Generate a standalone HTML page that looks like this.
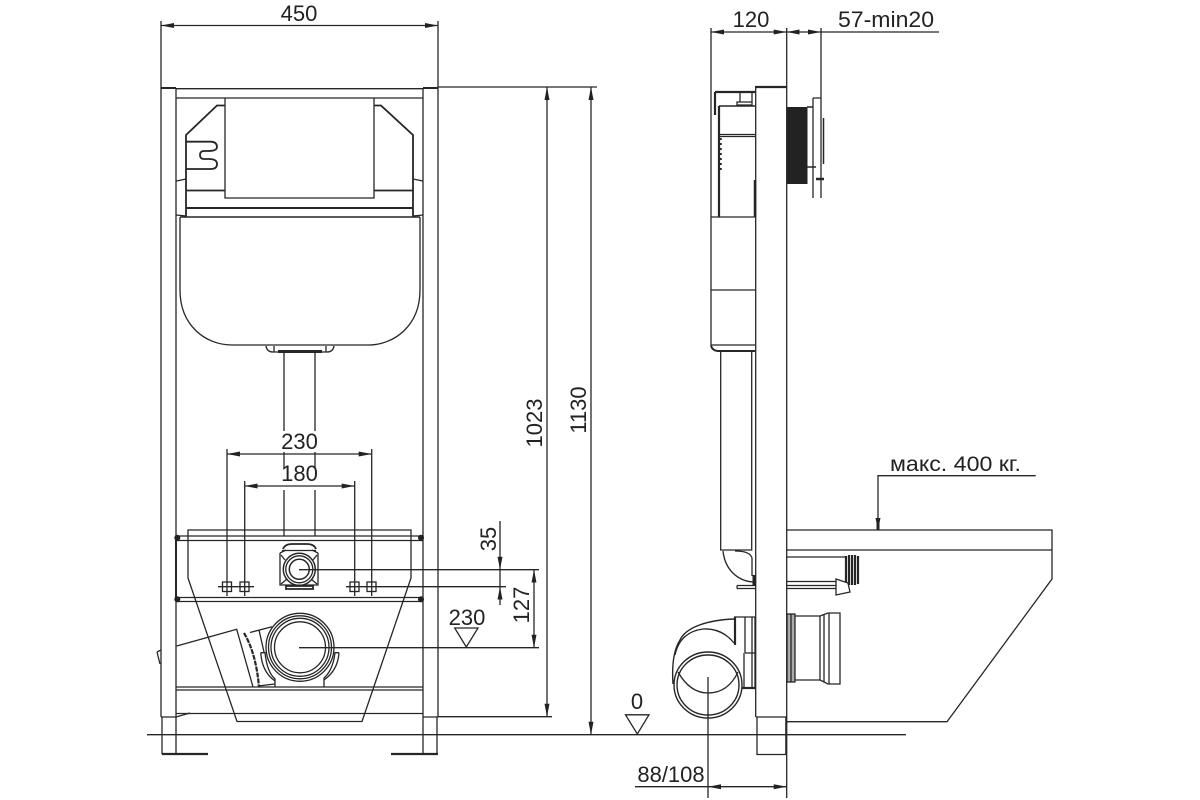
<!DOCTYPE html>
<html><head><meta charset="utf-8"><style>
html,body{margin:0;padding:0;background:#fff}
svg{display:block}
text{font-family:"Liberation Sans",sans-serif;font-size:22px;fill:#222}
</style></head><body>
<svg width="1200" height="800" viewBox="0 0 1200 800" xmlns="http://www.w3.org/2000/svg">
<defs>
<marker id="a" viewBox="0 0 13 6" refX="13" refY="3" markerWidth="13" markerHeight="6" orient="auto-start-reverse" markerUnits="userSpaceOnUse"><path d="M13 3L0 0.5V5.5Z" fill="#222"/></marker>
</defs>
<g fill="none" stroke="#262626" stroke-width="1.3">
<!-- LEFT VIEW frame -->
<path d="M161 21V717M176 88V717M423 88V717M438 21V717"/>
<path d="M176 88.700H423M176 98H423"/>
<path d="M161 88H176M423 88H438" stroke-width="2"/>
<path d="M161 717H176M423 717H438"/>
<path d="M161 25.500H438" marker-start="url(#a)" marker-end="url(#a)"/>
<!-- flush box -->
<path d="M225 98V198H374V98"/>
<path d="M225 105.500H217L186 135V217M374 105.500H381L413 135V217" stroke-width="1.800"/>
<path d="M186 190.500H225M374 190.500H413" stroke-width="1.700"/>
<path d="M186 208H413" stroke-width="2"/>
<path d="M180 217H420" stroke-width="1.500"/>
<path d="M186 141.700H211Q217 142 217 147Q217 151 208 151H204Q200 151 200 155Q200 159 204 159H209Q217 159 217 164Q217 169 211 169H186" stroke-width="1.800"/>
<path d="M176.500 181L186 179M413 179L423 181M176 215L186 216M413 216L423 215"/>
<!-- tank -->
<path d="M180 217V290C180 325 205 345 232 345H368C395 345 420 325 420 290V217"/>
<path d="M266 346Q267 352 273 352H327Q333 352 334 346M274 346V352M326 346V352"/>
<path d="M278 351.500H322" stroke-width="3"/>
<!-- pipe -->
<path d="M284 353V431M315 353V431M284 452V468M315 452V468M284 490V536M315 490V536"/>
<!-- lower panel -->
<path d="M188 530H411V578L362 721.500H237L188 578Z"/>
<path d="M176 536H423M176 540.500H423M176 597.500H423M176 601.500H423"/>
<path d="M176 537V600" stroke-width="2"/>
<g fill="#222" stroke="none"><circle cx="177.300" cy="537.700" r="3"/><circle cx="421" cy="537.700" r="3"/><circle cx="177.300" cy="599.300" r="3"/><circle cx="421" cy="599.300" r="3"/></g>
<!-- dims 230/180 -->
<path d="M227 449V596M244.700 481V596M354.700 481V596M371.700 449V596"/>
<path d="M227 454H371.700" marker-start="url(#a)" marker-end="url(#a)"/>
<path d="M244.700 486H354.700" marker-start="url(#a)" marker-end="url(#a)"/>
<path d="M218 586.700H254M346 586.700H506"/>
<g fill="none"><rect x="222.500" y="582" width="9" height="9.500"/><rect x="240" y="582" width="9" height="9.500"/><rect x="350" y="582" width="9" height="9.500"/><rect x="367" y="582" width="9" height="9.500"/></g>
<!-- small socket -->
<path d="M280 553V585H318V553M280 553L286 550M318 553L312 550M282 550.500H316"/>
<path d="M283 549Q285 544 292 544H307Q314 544 316 549M286 586H313V589H286Z" stroke-width="1.800"/>
<path d="M281 555L285 560M317 555L313 560M281 584L287 579M317 584L311 579"/>
<circle cx="299.300" cy="569.300" r="16" fill="#fff" stroke-width="1.500"/>
<circle cx="299.300" cy="569.300" r="13.500"/>
<circle cx="299.300" cy="569.300" r="10" stroke-width="1.500"/>
<path d="M299 569.700H539"/>
<!-- big socket -->
<path d="M176.700 646L236.700 629.300L253 687M250 632.500L272 626.700M259 630L264 652"/>
<path d="M244 633Q256 653 259 687" stroke-width="2.200" stroke-dasharray="5 1"/>
<path d="M260.700 652.700H265Q267 672 275 679V687M339 652.700H335Q333 670 324 678V687M258 686L275 684"/>
<path d="M260.700 652.700Q262 672 275 681M339 652.700Q338 670 324 680"/>
<circle cx="300" cy="647.300" r="34" fill="#fff"/>
<circle cx="300" cy="647.300" r="31.500"/>
<circle cx="300" cy="647.300" r="29"/>
<circle cx="300" cy="647.300" r="25.500"/>
<path d="M299 647.700H539"/>
<path d="M176 687H423M176 690H423"/>
<path d="M176 713.500H423"/>
<path d="M176 717L190 713"/>
<path d="M157 652L160 664M157 652L161 650"/>
<!-- feet -->
<path d="M162 717V754M176 717V754M423 717V754M437 717V754"/>
<path d="M162 754H208M391 754H438" stroke-width="2.200"/>
<path d="M147 734.700H906"/>
<!-- right side dims -->
<path d="M438 87H597M438 716.700H552"/>
<path d="M547 87V716.700" marker-start="url(#a)" marker-end="url(#a)"/>
<path d="M591 87V734.700" marker-start="url(#a)" marker-end="url(#a)"/>
<path d="M534 569.700V647.700" marker-start="url(#a)" marker-end="url(#a)"/>
<path d="M500 521V569.700" marker-end="url(#a)"/>
<path d="M500 605V586.700" marker-end="url(#a)"/>
<path d="M500 569.700V586.700"/>
<path d="M454.700 628H478L466.300 647Z"/>
<path d="M625.500 714.800H649L637.300 734Z"/>
<!-- SIDE VIEW -->
<path d="M711 28V217M786.700 28V717M821 28V198M813 98V198M813 98H821"/>
<path d="M711 32H786.700" marker-start="url(#a)" marker-end="url(#a)"/>
<path d="M786.700 32H821" marker-start="url(#a)" marker-end="url(#a)"/>
<path d="M821 32H939"/>
<path d="M755 87H787" stroke-width="2.200"/>
<path d="M755.700 87V717"/>
<path d="M756 717H787"/>
<path d="M757 717V754.500H786"/>
<path d="M786 717V754.500" stroke-width="1.600"/>
<path d="M715 92H755M715 92V115" stroke-width="2.200"/>
<path d="M719 106H755" stroke-width="1.600"/>
<path d="M719 106V217" stroke-width="2.200"/>
<path d="M720 134.500H755M720 136.500H755"/>
<path d="M720 138V170" stroke-width="3.500" stroke-dasharray="2 3"/>
<path d="M755 180V217" stroke-width="2.500"/>
<path d="M740 92V102M752 92V102M737 102H752V105H737Z"/>
<path d="M711 217H755M711 217V346M711 290H755M711 345H755"/>
<path d="M711 346Q713 351 718 351H755" stroke-width="2"/>
<path d="M720.700 352V550H751.700V352"/>
<path d="M723 551C725 570 738 581 753 582M735 551Q750 551 752 558V576"/>
<rect x="752.500" y="575" width="3.500" height="10" fill="#222" stroke="none"/>
<path d="M737 585.500H756M737 588.500H756M737 585.500V588.500"/>
<rect x="787" y="107" width="20.500" height="77" fill="#222" stroke="none"/>
<path d="M807 107H813M823.500 118V164" stroke-width="1.500"/>
<path d="M807 167H816" stroke-width="1.500"/>
<path d="M816 179H824" stroke-width="2.500"/>
<!-- toilet -->
<path d="M787 530H1052V579L947 721.700H787" />
<path d="M787 550H1052"/>
<path d="M787 557H845M787 581.500H836M787 585.500H836M787 588.500H836"/>
<g stroke-width="1.500"><path d="M846 556V584M849 555V585M852 555V585M855 555V585M858 556V584" stroke-width="2.200"/></g>
<path d="M836 579L848 583L850 592L836 595Z" fill="#fff"/>
<path d="M878 530V475.700H1035.700"/>
<path d="M878 530V518" stroke-width="3"/>
<!-- rear socket -->
<rect x="787" y="614" width="8" height="68" fill="#aaa"/>
<path d="M791 614V682M795 616H820V680H795M820 616L828 613H840V684H828L820 680"/>
<path d="M824 614V682M829 613V684"/>
<!-- front elbow -->
<path d="M734 619C708 620 686 627 680 640Q671 654 673 684" stroke-width="1.400"/>
<path d="M734 643Q722 628 703 629Q680 632 675 655"/>
<path d="M735 617V645" stroke-width="2.200"/>
<path d="M734 617H756M745 617V653M755 617V688M745 653H756M744 653V688M752 617V688"/>
<path d="M741 688H756" stroke-width="2.200"/>
<ellipse cx="708" cy="685" rx="34" ry="33" fill="#fff" stroke-width="1.400"/>
<ellipse cx="708" cy="685" rx="31" ry="30" stroke-width="1.400"/>
<path d="M678 672Q690 693 708 693Q728 693 738 672"/>
<path d="M708 677V798M786.700 717V798"/>
<path d="M708 786.700H786.700" marker-start="url(#a)" marker-end="url(#a)"/>
<path d="M635 786.700H708"/>
</g>
<path d="M875.500 518H880.500L878 530Z" fill="#222"/>
<text x="299" y="21" text-anchor="middle">450</text>
<text x="299.500" y="449" text-anchor="middle">230</text>
<text x="299.500" y="481" text-anchor="middle">180</text>
<text x="751" y="27" text-anchor="middle">120</text>
<text x="838" y="27" textLength="96" lengthAdjust="spacingAndGlyphs">57-min20</text>
<text x="890" y="471" textLength="131" lengthAdjust="spacingAndGlyphs" style="font-size:21px">макс. 400 кг.</text>
<text x="467" y="625" text-anchor="middle">230</text>
<text x="637" y="709" text-anchor="middle">0</text>
<text x="671" y="782" text-anchor="middle">88/108</text>
<text transform="translate(542,423) rotate(-90)" text-anchor="middle">1023</text>
<text transform="translate(586,410) rotate(-90)" text-anchor="middle">1130</text>
<text transform="translate(529,605) rotate(-90)" text-anchor="middle">127</text>
<text transform="translate(496,539) rotate(-90)" text-anchor="middle">35</text>
</svg>
</body></html>
